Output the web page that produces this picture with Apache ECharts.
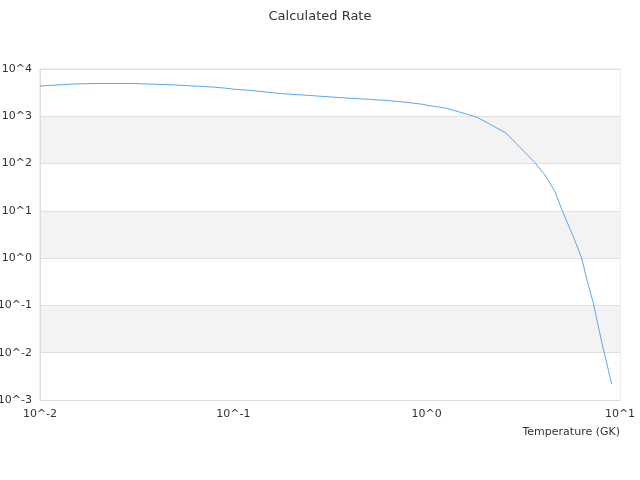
<!DOCTYPE html>
<html>
<head>
<meta charset="utf-8">
<script src="https://cdn.jsdelivr.net/npm/echarts@6/dist/echarts.min.js"></script>
<style>html,body{margin:0;padding:0;background:#fff}#c{width:640px;height:480px}</style>
</head>
<body>
<div id="c"></div>
<script>
var temperatures = [0.01, 0.015, 0.02, 0.03, 0.04, 0.05, 0.06, 0.07, 0.08, 0.09, 0.1, 0.12, 0.175, 0.25, 0.36, 0.5, 0.64, 0.8, 0.95, 1.0, 1.27, 1.82, 2.57, 3.63, 4.09, 4.61, 5.05, 5.74, 6.34, 6.75, 7.28, 8.07, 9.06];
var rates = [4370, 4820, 4950, 4950, 4750, 4600, 4400, 4280, 4120, 3950, 3750, 3550, 3030, 2750, 2470, 2285, 2140, 1960, 1795, 1720, 1476, 958, 444, 105, 57.3, 25.4, 9.6, 2.84, 0.99, 0.345, 0.111, 0.0158, 0.00218];
var titleText = 'Calculated Rate';
var xAxisName = 'Temperature (GK)';

var FONT = '"DejaVu Sans", sans-serif';
var chart = echarts.init(document.getElementById('c'));
function fmt(v) {
  return '10^' + Math.round(Math.log10(v));
}
chart.setOption({
  animation: false,
  textStyle: { fontFamily: FONT },
  title: { text: titleText, left: 'center', top: 5, textStyle: { fontSize: 13, fontWeight: 'normal', color: '#333', fontFamily: FONT } },
  grid: { left: 40, right: 20, top: 69, bottom: 80, show: true, borderColor: '#ddd', borderWidth: 1, containLabel: false, outerBoundsMode: 'none' },
  xAxis: {
    type: 'log', min: 0.01, max: 10, logBase: 10,
    name: xAxisName, nameLocation: 'end', nameGap: 0,
    nameTextStyle: { align: 'right', verticalAlign: 'top', padding: [27, 0, 0, 0], fontSize: 11, color: '#333', fontFamily: FONT },
    axisLine: { lineStyle: { color: '#ddd' } },
    axisTick: { show: false },
    splitLine: { show: false },
    axisLabel: { formatter: fmt, fontSize: 11, color: '#333', fontFamily: FONT, margin: 9 }
  },
  yAxis: {
    type: 'log', min: 0.001, max: 10000, logBase: 10,
    axisLine: { show: true, lineStyle: { color: '#ddd' } },
    axisTick: { show: false },
    splitLine: { show: true, lineStyle: { color: '#e0e0e0' } },
    splitArea: { show: true, areaStyle: { color: ['#ffffff', '#f3f3f3'] } },
    axisLabel: { formatter: fmt, fontSize: 11, color: '#333', fontFamily: FONT }
  },
  series: [{
    type: 'line',
    data: temperatures.map(function (t, i) { return [t, rates[i]]; }),
    showSymbol: false,
    lineStyle: { width: 1, color: '#5aa7f0' },
    itemStyle: { color: '#5aa7f0' }
  }]
});
</script>
</body>
</html>
